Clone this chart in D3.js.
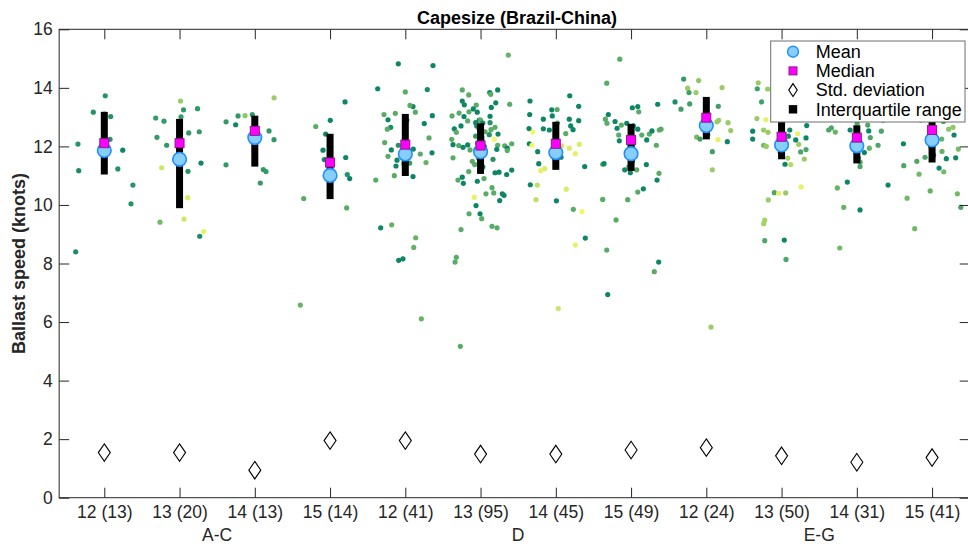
<!DOCTYPE html>
<html>
<head>
<meta charset="utf-8">
<script src="https://cdn.jsdelivr.net/npm/d3@7"></script>
<style>
  body { margin: 0; background: #fff; }
  svg { display: block; font-family: "Liberation Sans", Arial, Helvetica, sans-serif; }
  .tick text { fill: #262626; }
</style>
</head>
<body>
<div id="chart"></div>
<script>
/* Capesize (Brazil-China) — ballast speed per build year / route group */

// categories: build year (n) and route group
const categories = ['12 (13)', '13 (20)', '14 (13)', '15 (14)', '12 (41)', '13 (95)', '14 (45)', '15 (49)', '12 (24)', '13 (50)', '14 (31)', '15 (41)'];
const routes = ['A-C', 'D', 'E-G'];
const yTicks = [0, 2, 4, 6, 8, 10, 12, 14, 16];

// summary statistics (knots)
const meanSpeed   = [11.86, 11.56, 12.30, 11.01, 11.74, 11.82, 11.79, 11.75, 12.71, 12.05, 12.02, 12.22];
const medianSpeed = [12.11, 12.11, 12.53, 11.45, 12.06, 12.03, 12.09, 12.22, 12.98, 12.33, 12.30, 12.56];
const q1Speed     = [11.04, 9.89, 11.31, 10.20, 10.99, 11.06, 11.20, 11.16, 12.24, 11.56, 11.42, 11.45];
const q3Speed     = [13.18, 12.94, 13.05, 12.43, 13.11, 12.79, 12.84, 12.77, 13.69, 13.00, 12.72, 12.95];
const stdSpeed    = [1.54, 1.54, 0.94, 1.95, 1.95, 1.49, 1.49, 1.63, 1.71, 1.43, 1.21, 1.37];

// individual voyages: [jittered category position, speed, colour value 0..1]
const pts1 = [[1.013,13.73,.15],[0.854,13.17,.15],[1.085,13.02,.15],[1.076,12.24,.15],[0.65,12.08,.15],[1.245,11.87,.05],
  [0.66,11.17,.1],[1.18,11.23,.15],[1.38,10.68,.15],[1.355,10.04,.15],[0.62,8.40,.1],[1.0,13.1,.15],[1.0,12.6,.1]];
const pts2 = [[2.013,13.55,.6],[2.053,13.25,.2],[2.239,13.29,.2],[1.683,12.97,.2],[1.793,12.86,.2],[2.019,13.01,.2],
  [1.70,12.31,.2],[1.829,12.04,.2],[2.122,12.46,.2],[2.262,12.50,.2],[2.285,11.43,.05],[2.112,11.15,.15],
  [1.763,11.27,.8],[2.108,10.25,.85],[1.74,9.41,.45],[2.059,9.52,.8],[2.321,9.09,.9],[2.268,8.93,.1],[2.0,12.2,.2],[2.0,10.6,.2]];
const pts3 = [[3.256,13.66,.6],[2.967,13.09,.2],[2.87,13.05,.55],[2.777,13.04,.2],[2.618,12.84,.2],[2.746,12.74,.05],
  [3.189,12.53,.2],[3.255,12.23,.2],[2.617,11.37,.2],[3.113,11.21,.2],[3.149,11.14,.2],[3.073,10.75,.2],[3.0,12.5,.2]];
const pts4 = [[4.199,13.52,.05],[4.003,12.89,.05],[3.81,12.68,.35],[3.942,12.42,.05],[3.906,11.87,.05],[3.924,11.55,.05],
  [4.208,11.62,.05],[4.229,11.04,.15],[4.261,10.90,.05],[3.65,10.22,.35],[4.221,9.90,.35],[3.605,6.58,.4],[4.0,11.2,.05],[4.0,10.6,.15]];
const pts5 = [[4.907,14.82,.05],[5.368,14.76,.05],[4.633,13.97,.05],[5.0,13.86,.35],[5.292,13.94,.1],[5.102,13.36,.05],
  [5.062,13.40,.35],[5.133,13.17,.35],[4.717,13.09,.35],[4.867,13.13,.35],[4.77,12.91,.05],[5.359,13.05,.05],
  [5.252,12.78,.05],[4.806,12.65,.1],[4.761,12.59,.35],[5.315,12.29,.35],[4.726,12.13,.35],[4.907,12.04,.15],
  [4.814,11.88,.05],[5.106,11.91,.05],[5.199,11.74,.35],[5.355,11.78,.05],[4.77,11.66,.35],[4.89,11.53,.05],
  [5.058,11.43,.2],[5.275,11.45,.4],[4.876,11.33,.05],[4.854,11.0,.35],[5.102,10.97,.05],[4.607,10.85,.35],
  [4.673,9.22,.05],[4.819,9.32,.4],[5.138,8.88,.4],[5.112,8.55,.4],[4.912,8.11,.05],[4.969,8.16,.05],[5.213,6.11,.4],
  [5.0,12.5,.05],[4.98,11.4,.35],[5.02,12.9,.05],[5.0,11.2,.35]];
const pts6 = [[6.369,15.12,.4],[5.757,13.93,.35],[5.843,13.76,.35],[6.122,13.84,.05],[6.135,13.78,.35],[6.228,13.93,.05],
  [6.202,13.49,.05],[5.757,13.55,.05],[5.784,13.42,.05],[5.943,13.41,.35],[5.903,13.28,.05],[5.956,13.17,.05],
  [5.846,13.18,.35],[6.143,13.33,.05],[5.714,13.14,.35],[5.621,13.04,.35],[5.78,13.02,.05],[6.126,13.03,.05],
  [5.983,12.90,.05],[5.829,12.87,.35],[5.935,12.81,.05],[6.126,12.81,.15],[5.74,12.70,.05],[5.651,12.60,.05],
  [6.192,12.65,.35],[6.139,12.57,.35],[5.678,12.48,.35],[5.935,12.35,.2],[6.116,12.40,.15],[6.232,12.42,.05],
  [6.183,12.24,.95],[5.617,12.24,.35],[5.71,12.03,.35],[5.634,12.06,.05],[5.767,11.97,.05],[5.829,12.05,.05],
  [5.86,11.88,.35],[6.228,12.04,.35],[6.321,12.02,.35],[6.355,11.94,.05],[6.215,11.90,.05],[5.634,11.61,.35],
  [6.165,11.56,.15],[5.89,11.49,.35],[5.922,11.38,.35],[5.843,11.14,.35],[6.192,11.10,.05],[6.245,11.12,.05],
  [6.347,11.04,.05],[5.70,10.85,.35],[5.757,10.95,.05],[5.771,10.74,.05],[5.957,10.81,.05],[6.046,10.90,.35],
  [6.152,10.59,.35],[6.072,10.38,.35],[6.175,10.41,.35],[6.289,10.38,.05],[6.312,10.33,.05],[6.254,10.15,.05],
  [5.917,10.26,.9],[5.94,9.98,.05],[5.993,9.70,.05],[5.847,9.70,.35],[6.015,9.53,.35],[6.152,9.27,.35],
  [6.219,9.22,.35],[5.74,9.16,.35],[5.678,8.21,.35],[5.661,8.05,.35],[5.731,5.17,.35],[6.387,13.44,.35],
  [6.355,11.86,.35],[6.414,12.09,.35],[6.414,11.19,.05],
  [5.98,12.6,.05],[6.02,12.3,.35],[6.0,11.9,.05],[5.97,11.6,.35],[6.03,11.3,.05],[6.0,12.9,.35],[5.96,12.1,.05],
  [6.04,11.8,.35],[5.99,11.2,.05],[6.01,12.5,.35],[5.95,12.7,.05],[6.05,12.0,.05],[5.98,11.4,.35],[6.02,12.2,.05],
  [6.0,11.7,.05],[6.06,12.5,.35],[5.94,11.9,.35],[6.03,12.8,.05]];
const pts7 = [[7.185,13.73,.05],[6.657,13.55,.05],[7.304,13.37,.05],[6.946,13.25,.05],[7.017,13.26,.35],[6.653,13.09,.05],
  [6.953,13.04,.05],[6.834,12.93,.05],[7.179,12.93,.05],[7.304,12.88,.05],[7.198,12.70,.05],[7.229,12.57,.05],
  [6.644,12.61,.05],[6.834,12.60,.05],[6.914,12.56,.05],[6.693,12.49,.95],[7.132,12.44,.35],[6.648,12.09,.05],
  [6.684,12.04,.95],[7.079,12.02,.8],[7.179,11.94,.85],[7.312,12.07,.85],[7.259,11.75,.9],[6.759,11.82,.05],
  [6.773,11.41,.05],[7.384,11.31,.05],[7.069,11.63,.05],[6.852,11.24,.85],[6.799,11.17,.9],[6.661,10.69,.05],
  [6.754,10.68,.75],[7.139,10.54,.85],[6.737,10.18,.75],[7.008,10.14,.05],[7.233,9.85,.35],[7.348,9.77,.95],
  [7.392,8.87,.05],[7.259,8.63,.9],[7.033,6.46,.8],
  [7.0,12.3,.05],[6.98,11.6,.05],[7.02,12.8,.35],[7.0,11.3,.05],[7.03,12.0,.05]];
const pts8 = [[7.85,14.98,.35],[7.677,14.16,.35],[7.698,13.09,.05],[7.659,12.93,.35],[7.68,12.79,.35],[7.787,12.85,.05],
  [7.871,12.73,.35],[7.943,12.79,.05],[7.814,12.62,.05],[8.017,13.32,.05],[8.089,13.36,.05],[8.102,13.18,.35],
  [8.354,13.44,.05],[7.836,12.39,.35],[7.844,12.19,.05],[8.089,12.59,.05],[8.142,12.39,.35],[8.243,12.42,.35],
  [8.278,12.53,.05],[8.208,12.22,.05],[8.336,12.04,.35],[8.375,12.56,.35],[7.623,11.39,.35],[7.641,11.41,.05],
  [7.916,11.20,.05],[8.075,11.20,.35],[8.203,11.38,.05],[8.371,11.08,.35],[8.345,10.85,.05],[8.163,10.55,.05],
  [8.089,10.44,.35],[7.623,10.19,.35],[7.955,10.18,.35],[7.80,9.49,.35],[7.677,8.46,.35],[8.367,8.05,.05],
  [8.309,7.72,.35],[7.69,6.94,.05],[8.398,12.59,.35],
  [8.0,12.5,.05],[7.98,11.9,.35],[8.02,11.5,.05],[8.0,12.1,.05],[7.97,11.3,.35],[8.03,12.7,.05],[8.0,11.7,.35],
  [8.01,12.3,.05],[7.99,11.1,.05],[8.02,12.0,.35]];
const pts9 = [[8.699,14.30,.2],[8.898,14.25,.55],[8.752,13.99,.6],[8.77,13.84,.25],[8.863,13.84,.6],[9.209,14.01,.6],
  [8.584,13.52,.1],[8.663,13.27,.25],[8.779,13.45,.25],[9.159,13.37,.25],[9.164,12.89,.6],[9.142,12.84,.6],
  [9.288,12.81,.6],[9.324,12.54,.6],[8.872,12.32,.45],[8.916,12.25,.25],[9.155,12.23,.9],[9.279,12.16,.05],
  [9.08,11.82,.25],[9.08,11.20,.6],[9.062,5.83,.6],[9.0,13.2,.25],[9.0,12.7,.6],[9.02,12.4,.25]];
const pts10 = [[9.69,14.17,.6],[9.677,13.97,.25],[9.815,13.96,.6],[9.735,13.52,.25],[9.672,12.95,.6],[9.792,12.91,.9],
  [9.616,12.52,.05],[9.616,12.25,.05],[9.762,12.56,.6],[9.82,12.48,.6],[9.762,12.04,.45],[9.797,12.0,.6],
  [10.109,12.56,.05],[10.09,12.35,.05],[10.215,12.43,.9],[10.188,12.22,.05],[10.334,12.71,.05],[10.325,12.29,.05],
  [10.228,12.07,.6],[10.254,11.81,.3],[10.325,11.89,.3],[10.302,11.57,.6],[10.082,11.60,.65],[10.122,11.38,.7],
  [10.046,11.39,.05],[10.259,10.62,.9],[9.904,10.42,.3],[9.962,10.40,.9],[10.055,10.41,.6],[9.824,10.17,.6],
  [9.776,9.48,.65],[9.762,9.36,.65],[9.776,8.78,.3],[10.036,8.80,.05],[10.059,8.14,.3],
  [10.0,12.9,.05],[10.0,12.6,.6],[10.02,12.0,.05],[9.98,11.8,.6],[10.1,13.4,.3],[10.2,13.8,.6],[10.3,13.2,.05],
  [10.15,14.0,.05],[9.95,13.1,.3],[10.05,12.3,.3],[10.25,13.6,.6],[10.35,13.0,.9],[9.9,13.3,.05],[10.0,13.9,.6],[10.1,12.95,.3]];
const pts11 = [[10.626,12.56,.3],[10.661,12.63,.3],[10.714,12.49,.4],[10.911,12.56,.05],[11.004,12.79,.3],[11.145,12.73,.3],
  [11.158,12.53,.05],[11.326,12.52,.3],[11.179,12.30,.3],[11.166,11.94,.4],[11.10,11.79,.05],[11.282,12.04,.3],
  [11.043,11.46,.3],[11.043,11.31,.3],[10.874,10.78,.05],[10.741,10.58,.4],[11.415,10.68,.05],[10.826,9.92,.4],
  [11.043,9.83,.05],[10.773,8.53,.45],
  [11.0,12.4,.05],[10.98,12.0,.3],[11.02,11.6,.05],[10.8,13.3,.3],[11.1,13.6,.05],[11.3,13.1,.4],[10.7,13.0,.05],
  [11.2,14.2,.3],[10.9,13.9,.4],[11.35,12.9,.05],[11.0,13.2,.3]];
const pts12 = [[11.619,12.09,.05],[11.624,11.34,.3],[11.797,11.49,.3],[11.827,11.05,.45],[11.907,11.63,.3],[12.093,11.26,.05],
  [12.132,11.83,.4],[12.155,11.13,.45],[12.128,12.25,.4],[12.189,11.58,.05],[12.221,12.59,.55],[12.278,12.65,.55],
  [12.292,12.39,.05],[12.314,11.61,.05],[12.349,11.91,.45],[11.975,10.48,.4],[12.336,10.38,.45],[12.381,9.92,.3],
  [11.668,10.23,.45],[11.769,9.19,.45],
  [12.0,12.4,.05],[11.98,12.0,.3],[12.02,11.7,.05],[11.7,13.2,.3],[11.8,13.6,.05],[11.9,14.1,.4],[12.1,13.4,.3],
  [12.2,13.0,.05],[12.3,13.8,.45],[11.65,12.95,.05],[12.05,14.4,.3],[12.25,13.3,.05],[11.85,12.9,.4],[12.15,12.85,.3],
  [12.35,13.5,.05],[11.95,13.1,.3],[12.0,12.7,.05],[11.75,13.9,.3],[12.28,14.2,.4],[12.1,12.95,.05],[11.9,13.3,.05]];

const allPts = [pts1, pts2, pts3, pts4, pts5, pts6, pts7, pts8, pts9, pts10, pts11, pts12].flat();

const W = 968, H = 544;
const plot = { left: 59.15, right: 969.7, top: 29.3, bottom: 497.7 };

const svg = d3.select('#chart').append('svg')
  .attr('width', W).attr('height', H);

const x = d3.scaleLinear().domain([0.4, 12.5]).range([plot.left, plot.right]);
const y = d3.scaleLinear().domain([0, 16]).range([plot.bottom, plot.top]);

// MATLAB "summer" colormap
const summer = d3.interpolateRgb('rgb(0,128,102)', 'rgb(255,255,102)');

// Scatter of individual voyages
svg.append('g').selectAll('circle')
  .data(allPts)
  .join('circle')
  .attr('cx', d => x(d[0]))
  .attr('cy', d => y(d[1]))
  .attr('r', 2.6)
  .attr('fill', d => summer(d[2]));

const idx = d3.range(categories.length);

// Interquartile range bars
svg.append('g').selectAll('rect')
  .data(idx)
  .join('rect')
  .attr('x', i => x(i + 1) - 3.5)
  .attr('width', 7)
  .attr('y', i => y(q3Speed[i]))
  .attr('height', i => y(q1Speed[i]) - y(q3Speed[i]))
  .attr('fill', '#000');

// Mean
svg.append('g').selectAll('circle')
  .data(idx)
  .join('circle')
  .attr('cx', i => x(i + 1))
  .attr('cy', i => y(meanSpeed[i]))
  .attr('r', 6.8)
  .attr('fill', '#87cefa')
  .attr('stroke', '#1e90ff')
  .attr('stroke-width', 1.6);

// Median
svg.append('g').selectAll('rect')
  .data(idx)
  .join('rect')
  .attr('x', i => x(i + 1) - 4.5)
  .attr('y', i => y(medianSpeed[i]) - 4.5)
  .attr('width', 9).attr('height', 9)
  .attr('fill', '#ff00ff')
  .attr('stroke', '#8b1a8b')
  .attr('stroke-width', 1);

// Std. deviation diamonds
const diamond = (w, h) => `M0,${-h / 2}L${w / 2},0L0,${h / 2}L${-w / 2},0Z`;
svg.append('g').selectAll('path')
  .data(idx)
  .join('path')
  .attr('transform', i => `translate(${x(i + 1)},${y(stdSpeed[i])})`)
  .attr('d', diamond(12, 17.5))
  .attr('fill', 'none')
  .attr('stroke', '#000')
  .attr('stroke-width', 1.1);

// Axes (ticks inward on all four sides)
const axisColor = '#262626';
const tickFont = 17.5;
const yAxis = svg.append('g')
  .attr('transform', `translate(${plot.left},0)`)
  .call(d3.axisLeft(y).tickValues(yTicks).tickSize(-10).tickPadding(6.5));
const yAxisR = svg.append('g')
  .attr('transform', `translate(${plot.right},0)`)
  .call(d3.axisRight(y).tickValues(yTicks).tickSize(-10).tickFormat(''));
const xAxis = svg.append('g')
  .attr('transform', `translate(0,${plot.bottom})`)
  .call(d3.axisBottom(x).tickValues(idx.map(i => i + 1)).tickSize(-10).tickPadding(8)
    .tickFormat(d => categories[d - 1]));
const xAxisT = svg.append('g')
  .attr('transform', `translate(0,${plot.top})`)
  .call(d3.axisTop(x).tickValues(idx.map(i => i + 1)).tickSize(-10).tickFormat(''));

[yAxis, yAxisR, xAxis, xAxisT].forEach(g => {
  g.select('.domain').remove();
  g.selectAll('line').attr('stroke', axisColor);
  g.selectAll('text').attr('font-size', tickFont).attr('font-family', null);
});

svg.append('rect')
  .attr('x', plot.left).attr('y', plot.top)
  .attr('width', plot.right - plot.left).attr('height', plot.bottom - plot.top)
  .attr('fill', 'none').attr('stroke', axisColor).attr('stroke-width', 1);

// Route group labels under each block of four categories
svg.append('g').selectAll('text')
  .data(routes)
  .join('text')
  .attr('x', (d, r) => x(r * 4 + 2.5))
  .attr('y', 540.5)
  .attr('text-anchor', 'middle')
  .attr('font-size', tickFont)
  .attr('fill', axisColor)
  .text(d => d);

// Title and y label
svg.append('text')
  .attr('x', 517).attr('y', 23.5)
  .attr('text-anchor', 'middle')
  .attr('font-size', 18).attr('font-weight', 'bold')
  .text('Capesize (Brazil-China)');

svg.append('text')
  .attr('transform', `translate(25,${(plot.top + plot.bottom) / 2}) rotate(-90)`)
  .attr('text-anchor', 'middle')
  .attr('font-size', 18).attr('font-weight', 'bold')
  .attr('fill', axisColor)
  .text('Ballast speed (knots)');

// Legend
const legend = svg.append('g');
legend.append('rect')
  .attr('x', 770.7).attr('y', 41)
  .attr('width', 194.3).attr('height', 81)
  .attr('fill', '#fff').attr('stroke', '#6e6e6e').attr('stroke-width', 1);

const legendItems = ['Mean', 'Median', 'Std. deviation', 'Interquartile range'];
const rowY = i => 51.7 + i * 19.2;
const mx = 793;

legend.append('circle').attr('cx', mx).attr('cy', rowY(0)).attr('r', 5.5)
  .attr('fill', '#87cefa').attr('stroke', '#1e90ff').attr('stroke-width', 1.4);
legend.append('rect').attr('x', mx - 4).attr('y', rowY(1) - 4).attr('width', 8).attr('height', 8)
  .attr('fill', '#ff00ff').attr('stroke', '#8b1a8b');
legend.append('path').attr('transform', `translate(${mx},${rowY(2)})`).attr('d', diamond(8.5, 13))
  .attr('fill', 'none').attr('stroke', '#000').attr('stroke-width', 1.1);
legend.append('rect').attr('x', mx - 4.2).attr('y', rowY(3) - 4.2).attr('width', 8.4).attr('height', 8.4)
  .attr('fill', '#000');

legend.selectAll('text.item')
  .data(legendItems)
  .join('text')
  .attr('class', 'item')
  .attr('x', 815.7)
  .attr('y', (d, i) => rowY(i) + 6.2)
  .attr('font-size', 18)
  .attr('fill', '#000')
  .text(d => d);
</script>
</body>
</html>
